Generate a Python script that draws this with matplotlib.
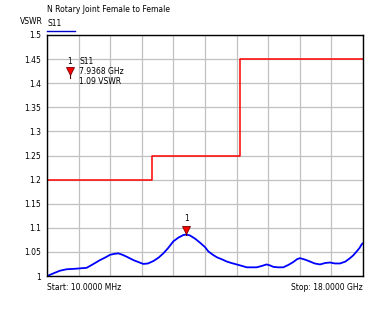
import numpy as np
import matplotlib
matplotlib.use("Agg")
import matplotlib.pyplot as plt

plt.rcParams['font.family'] = ['DejaVu Sans']

# ==============================
# DATA
# ==============================
freq_ghz = [0.01, 0.40, 0.74, 1.12, 1.60, 2.26, 2.60, 3.02, 3.35, 3.59, 3.85, 4.06,
            4.30, 4.54, 4.92, 5.20, 5.49, 5.75, 6.06, 6.35, 6.63, 6.90, 7.20, 7.50,
            7.77, 7.94, 8.15, 8.45, 8.72, 9.00, 9.19, 9.45, 9.67, 10.00, 10.24, 10.50,
            10.80, 11.10, 11.38, 11.65, 11.94, 12.25, 12.51, 12.70, 12.89, 13.15, 13.46,
            13.75, 14.03, 14.25, 14.41, 14.70, 14.98, 15.25, 15.55, 15.85, 16.12, 16.40,
            16.69, 17.00, 17.26, 17.45, 17.64, 17.80, 17.93, 18.00]
vswr = [1.000, 1.006, 1.011, 1.014, 1.015, 1.017, 1.024, 1.033, 1.039, 1.044, 1.046, 1.047,
        1.044, 1.040, 1.033, 1.029, 1.025, 1.026, 1.031, 1.038, 1.047, 1.058, 1.072, 1.080,
        1.085, 1.086, 1.084, 1.077, 1.069, 1.060, 1.051, 1.044, 1.039, 1.034, 1.030, 1.027,
        1.024, 1.021, 1.018, 1.018, 1.018, 1.021, 1.024, 1.022, 1.019, 1.018, 1.018,
        1.023, 1.029, 1.035, 1.037, 1.034, 1.030, 1.026, 1.024, 1.027, 1.028, 1.026,
        1.026, 1.030, 1.037, 1.043, 1.051, 1.058, 1.066, 1.068]

limit_freq = [0.01, 6.0, 6.0, 11.0, 11.0, 18.0]
limit_vswr = [1.20, 1.20, 1.25, 1.25, 1.45, 1.45]

marker_freq = 7.9368
marker_vswr = 1.086

yticks = [1, 1.05, 1.1, 1.15, 1.2, 1.25, 1.3, 1.35, 1.4, 1.45, 1.5]
ytick_labels = ["1", "1.05", "1.1", "1.15", "1.2", "1.25", "1.3", "1.35", "1.4", "1.45", "1.5"]

# ==============================
# PLOT
# ==============================
fig = plt.figure(figsize=(3.79, 3.2), dpi=100)
ax = fig.add_axes([47 / 379, 44 / 320, 316 / 379, 241 / 320])

ax.plot(limit_freq, limit_vswr, color="#ff0000", lw=1.1)
ax.plot(freq_ghz, vswr, color="#0000ff", lw=1.3)

# peak marker
ax.plot([marker_freq, marker_freq], [marker_vswr, marker_vswr + 0.01], color="#550000", lw=0.8)
ax.plot(marker_freq, marker_vswr + 0.01, marker="v", ms=6, color="#ff0000",
        mec="#700000", mew=0.6)
ax.text(marker_freq, marker_vswr + 0.024, "1", fontsize=5.5, ha="center", va="bottom")

ax.set_xlim(0, 18)
ax.set_ylim(1, 1.5)
ax.set_xticks(np.linspace(0, 18, 11))
ax.set_xticklabels([])
ax.set_yticks(yticks)
ax.set_yticklabels(ytick_labels, fontsize=5.5)
ax.tick_params(length=0, pad=4)
ax.grid(True, color="#c0c0c0", lw=0.9)
for s in ax.spines.values():
    s.set_color("black")
    s.set_linewidth(1.0)

# marker readout box
ax.plot(1.3, 1.425, marker="v", ms=6, color="#ff0000", mec="#700000", mew=0.6)
ax.plot([1.3, 1.3], [1.41, 1.418], color="#550000", lw=0.8)
ax.text(1.3, 1.446, "1", fontsize=5.5, ha="center", va="center")
ax.text(1.85, 1.446, "S11", fontsize=5.5, ha="left", va="center")
ax.text(1.85, 1.425, "7.9368 GHz", fontsize=5.5, ha="left", va="center")
ax.text(1.85, 1.404, "1.09 VSWR", fontsize=5.5, ha="left", va="center")

# header texts
fig.text(47 / 379, 1 - 9 / 320, "N Rotary Joint Female to Female", fontsize=5.5, ha="left", va="center")
fig.text(20 / 379, 1 - 21 / 320, "VSWR", fontsize=5.5, ha="left", va="center")
fig.text(47 / 379, 1 - 23 / 320, "S11", fontsize=5.5, ha="left", va="center")
fig.add_artist(plt.Line2D([47 / 379, 75 / 379], [1 - 31 / 320, 1 - 31 / 320],
                          color="#0000cc", lw=1.0))

# footer
fig.text(47 / 379, 1 - 288 / 320, "Start: 10.0000 MHz", fontsize=5.5, ha="left", va="center")
fig.text(363 / 379, 1 - 288 / 320, "Stop: 18.0000 GHz", fontsize=5.5, ha="right", va="center")

plt.savefig("out.png", dpi=100)
